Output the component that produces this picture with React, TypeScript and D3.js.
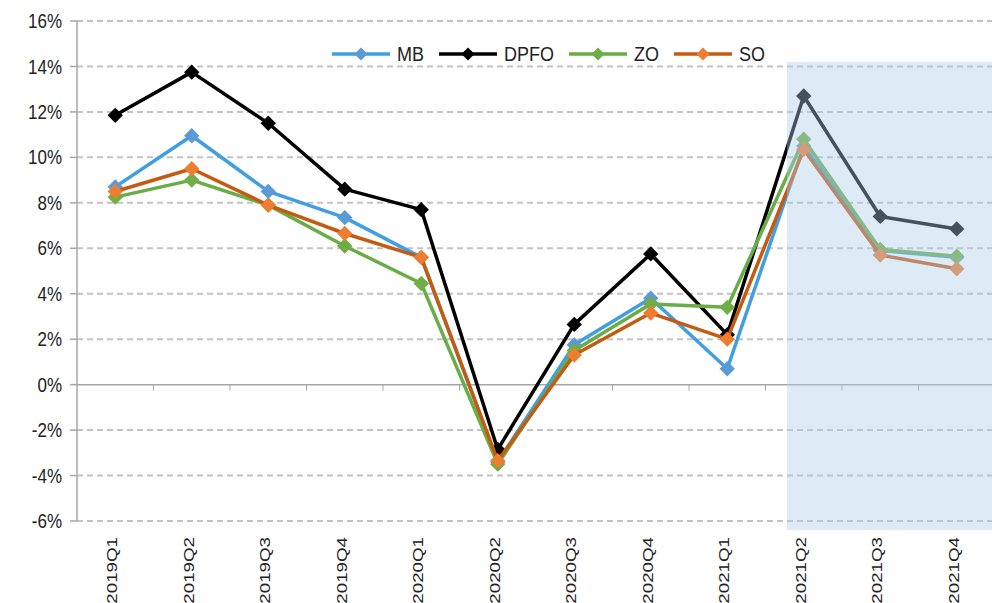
import React, { useMemo } from 'react';
import * as d3 from 'd3';

const categories = ['2019Q1', '2019Q2', '2019Q3', '2019Q4', '2020Q1', '2020Q2', '2020Q3', '2020Q4', '2021Q1', '2021Q2', '2021Q3', '2021Q4'];
const mbValues = [8.7, 10.95, 8.5, 7.35, 5.6, -3.4, 1.75, 3.8, 0.7, 10.5, 5.9, 5.6];
const dpfoValues = [11.85, 13.75, 11.5, 8.6, 7.7, -2.85, 2.65, 5.75, 2.2, 12.7, 7.4, 6.85];
const zoValues = [8.25, 9.0, 7.9, 6.1, 4.45, -3.5, 1.5, 3.55, 3.4, 10.8, 5.95, 5.65];
const soValues = [8.5, 9.5, 7.9, 6.65, 5.6, -3.35, 1.3, 3.15, 2.0, 10.35, 5.7, 5.1];
const yTicks = [-6, -4, -2, 0, 2, 4, 6, 8, 10, 12, 14, 16];

// forecast area (shaded)
const shadeFrom = '2021Q2';
const shadeTop = 14.2;
const shadeBottom = -6.4;

const series = [
  { name: 'MB', values: mbValues, line: '#3f9fe0', marker: '#5b9bd5' },
  { name: 'DPFO', values: dpfoValues, line: '#000000', marker: '#000000' },
  { name: 'ZO', values: zoValues, line: '#68ad45', marker: '#70ad47' },
  { name: 'SO', values: soValues, line: '#c55a11', marker: '#ed7d31' },
];

const W = 992;
const H = 603;
const margin = { top: 21, left: 77, bottom: 82 };
const FONT = '"Liberation Sans", Arial, sans-serif';

const App = () => {
  const x = d3.scaleBand().domain(categories).range([margin.left, margin.left + 918]).padding(0);
  const y = d3.scaleLinear().domain([-6, 16]).range([H - margin.bottom, margin.top]);
  const cx = (c: string) => (x(c) || 0) + x.bandwidth() / 2;

  const line = d3.line<number>()
    .x((_, i) => cx(categories[i]))
    .y(d => y(d));

  const diamond = d3.symbol().type(d3.symbolDiamond2).size(150)();
  const smallDiamond = d3.symbol().type(d3.symbolDiamond2).size(110)();

  const legendW = useMemo(() => {
    const ctx = document.createElement('canvas').getContext('2d');
    if (!ctx) return series.map(() => 30);
    ctx.font = `18px ${FONT}`;
    return series.map(s => ctx.measureText(s.name).width);
  }, []);

  let lx = 332;
  const legend = series.map((s, i) => {
    const item = { ...s, x: lx };
    lx += 58 + 7 + legendW[i] + 15;
    return item;
  });

  const shadeX = (x(shadeFrom) || 0) + x.bandwidth() * 0.28;

  return (
    <svg width={W} height={H} style={{ position: 'absolute', left: 0, top: 0, background: '#fff' }} fontFamily={FONT}>
      {/* grid */}
      {yTicks.map(t => (
        <g key={t}>
          {t !== 0 && (
            <line x1={margin.left} x2={W} y1={y(t)} y2={y(t)} stroke="#c3c3c3" strokeWidth={2} strokeDasharray="6,4" />
          )}
          <line x1={margin.left - 7} x2={margin.left} y1={y(t)} y2={y(t)} stroke="#a6a6a6" strokeWidth={1.5} />
          <text
            transform={`translate(62,${y(t)}) scale(1,1.15)`}
            dy="0.36em"
            textAnchor="end"
            fontSize={17}
            fill="#222"
          >
            {t}%
          </text>
        </g>
      ))}

      {/* axes */}
      <line x1={margin.left} x2={margin.left} y1={y(16)} y2={y(-6)} stroke="#a6a6a6" strokeWidth={1.5} />
      <line x1={margin.left} x2={W} y1={y(0)} y2={y(0)} stroke="#a6a6a6" strokeWidth={1.5} />
      {categories.slice(1).map(c => (
        <line key={c} x1={x(c) || 0} x2={x(c) || 0} y1={y(0)} y2={y(0) + 6} stroke="#a6a6a6" strokeWidth={1} />
      ))}

      {/* x labels */}
      {categories.map(c => (
        <text
          key={c}
          transform={`translate(${cx(c) + 2},537) rotate(-90) scale(1.25,1)`}
          textAnchor="end"
          fontSize={15}
          fill="#222"
        >
          {c}
        </text>
      ))}

      {/* series */}
      {series.map(s => (
        <g key={s.name}>
          <path d={line(s.values) || ''} fill="none" stroke={s.line} strokeWidth={3.5} strokeLinejoin="round" />
          {s.values.map((v, i) => (
            <path key={i} d={diamond || ''} transform={`translate(${cx(categories[i])},${y(v)})`} fill={s.marker} />
          ))}
        </g>
      ))}

      {/* forecast shading */}
      <rect
        x={shadeX}
        y={y(shadeTop)}
        width={W - shadeX}
        height={y(shadeBottom) - y(shadeTop)}
        fill="rgb(172,204,236)"
        fillOpacity={0.4}
      />

      {/* legend */}
      {legend.map(s => (
        <g key={s.name} transform={`translate(${s.x},54)`}>
          <line x1={0} x2={58} y1={0} y2={0} stroke={s.line} strokeWidth={3.5} />
          <path d={smallDiamond || ''} transform="translate(29,0)" fill={s.marker} />
          <text transform="translate(65,0) scale(1,1.15)" dy="0.36em" fontSize={18} fill="#222">
            {s.name}
          </text>
        </g>
      ))}
    </svg>
  );
};

export default App;
